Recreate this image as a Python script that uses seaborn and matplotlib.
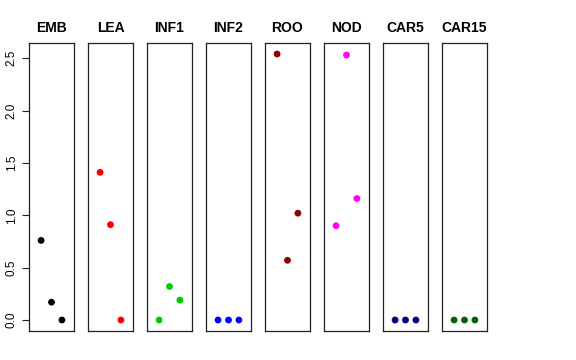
import pandas as pd
import seaborn as sns
import matplotlib
matplotlib.use("Agg")
import matplotlib.pyplot as plt

tissues = ["EMB", "LEA", "INF1", "INF2", "ROO", "NOD", "CAR5", "CAR15"]
replicate = [1, 2, 3]
emb = [0.76, 0.17, 0.0]
lea = [1.41, 0.91, 0.0]
inf1 = [0.0, 0.32, 0.19]
inf2 = [0.0, 0.0, 0.0]
roo = [2.54, 0.57, 1.02]
nod = [0.90, 2.53, 1.16]
car5 = [0.0, 0.0, 0.0]
car15 = [0.0, 0.0, 0.0]
colors = ["#000000", "#FF0000", "#00CD00", "#0000FF", "#8B0000", "#FF00FF", "#000080", "#006400"]

values = [emb, lea, inf1, inf2, roo, nod, car5, car15]
df = pd.DataFrame({
    "tissue": [t for t in tissues for _ in replicate],
    "rep": replicate * len(tissues),
    "expr": [v for vals in values for v in vals],
})

sns.set_style("white", {"text.color": "black", "axes.labelcolor": "black",
                        "ytick.color": "black"})
plt.rcParams["font.family"] = ["Liberation Sans", "DejaVu Sans"]

W, H = 576, 360
fig = plt.figure(figsize=(W / 100, H / 100), dpi=100)

for i, (t, c) in enumerate(zip(tissues, colors)):
    left = 29 + 59 * i
    ax = fig.add_axes([left / W, (H - 331) / H, 45 / W, 288 / H])
    sns.scatterplot(data=df[df.tissue == t], x="rep", y="expr", color=c,
                    s=24, edgecolor="none", ax=ax, legend=False)
    ax.set_xlim(-0.16, 4.16)
    ax.set_ylim(-0.105, 2.645)
    ax.set_title(t, fontsize=10, fontweight="bold", pad=8, color="black")
    ax.set_xlabel("")
    ax.set_ylabel("")
    ax.set_xticks([])
    for sp in ax.spines.values():
        sp.set_color("#222222")
        sp.set_linewidth(0.9)
        sp.set_visible(True)
    if i == 0:
        ax.set_yticks([0.0, 0.5, 1.0, 1.5, 2.0, 2.5])
        ax.set_yticklabels(["0.0", "0.5", "1.0", "1.5", "2.0", "2.5"],
                           rotation=90, va="center", fontsize=8.5, color="black")
        ax.tick_params(axis="y", left=True, length=5, width=0.8, pad=3,
                       color="#222222")
    else:
        ax.set_yticks([])

fig.savefig("out.png", dpi=100)
